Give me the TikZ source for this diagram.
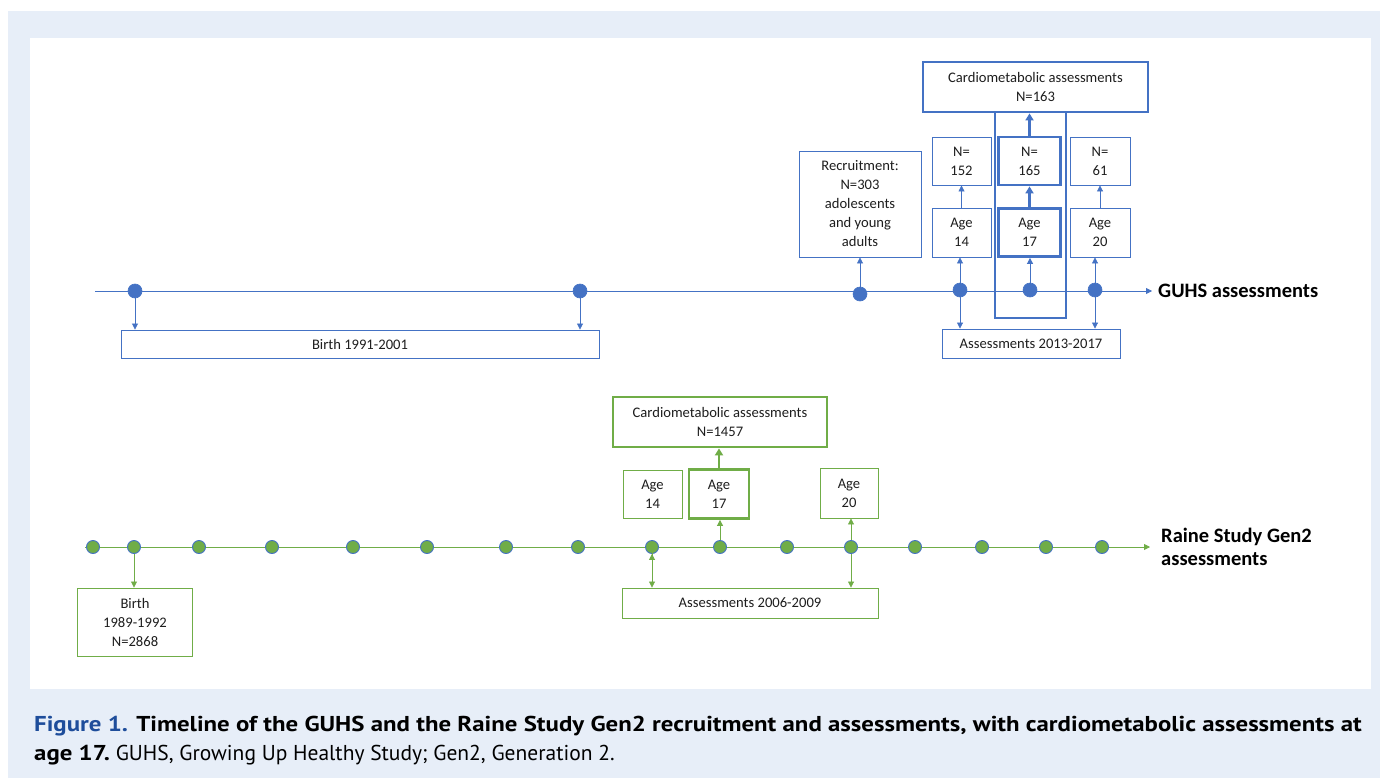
\documentclass[tikz,border=0pt]{standalone}
\usepackage{fontspec}
\setmainfont{Carlito}
\newfontfamily\capfont{PT Sans}
\usetikzlibrary{arrows.meta}
\definecolor{gblue}{HTML}{4472C4}
\definecolor{ggreen}{HTML}{70AD47}
\definecolor{panel}{HTML}{E7EEF8}
\definecolor{capblue}{HTML}{1E4D9B}
\definecolor{txt}{HTML}{1E1E1E}
\tikzset{
  boxbase/.style={draw, fill=white, inner sep=0pt, align=center, font=\fontsize{14.6}{19}\selectfont, text=txt},
  bbox/.style={boxbase, draw=gblue, line width=0.9pt},
  bthick/.style={boxbase, draw=gblue, line width=2.8pt},
  gbox/.style={boxbase, draw=ggreen, line width=0.9pt},
  gthick/.style={boxbase, draw=ggreen, line width=2.8pt},
  bdot/.style={circle, fill=gblue, draw=gblue, line width=0.6pt, minimum size=14pt, inner sep=0pt},
  gdot/.style={circle, fill=ggreen, draw=gblue, line width=0.9pt, minimum size=13pt, inner sep=0pt},
  barrow/.style={draw=gblue, line width=0.8pt, -{Triangle[length=6pt,width=6pt]}},
  barrowthick/.style={draw=gblue, line width=2.4pt, -{Triangle[length=7pt,width=8pt]}},
  garrow/.style={draw=ggreen, line width=0.8pt, -{Triangle[length=6pt,width=6pt]}},
  garrowthick/.style={draw=ggreen, line width=2.4pt, -{Triangle[length=7pt,width=8pt]}},
  lbl/.style={anchor=base west, inner sep=0pt, font=\bfseries\fontsize{20.5}{23}\selectfont, text=black, align=left},
}
\begin{document}
\begin{tikzpicture}[x=1pt,y=-1pt]
\useasboundingbox (0,0) rectangle (1380,778);
\fill[panel] (8,11) rectangle (1380,778);
\fill[white] (30,38) rectangle (1371,689);

% ---------------- GUHS timeline ----------------
\coordinate (gs) at (95,291);
\coordinate (ge) at (1152,291);
\draw[barrow] (gs) -- (ge);

% tall column around age 17
\node[draw=gblue, line width=2.8pt, minimum width=71pt, minimum height=206pt, inner sep=0pt] (col) at (1030.5,215) {};

\node[bbox, minimum width=478pt, minimum height=28pt] (birthg) at (360,344) {Birth 1991-2001};
\node[bbox, minimum width=122pt, minimum height=106pt] (recr) at (860,204) {Recruitment:\\N=303\\adolescents\\and young\\adults};
\node[bbox, minimum width=59pt, minimum height=49pt] (a14) at (961.5,232.5) {Age\\14};
\node[bbox, minimum width=59pt, minimum height=48pt] (n14) at (961.5,161) {N=\\152};
\node[bthick, minimum width=62pt, minimum height=48pt] (a17) at (1029.5,232.5) {Age\\17};
\node[bthick, minimum width=62pt, minimum height=48pt] (n17) at (1029.5,161) {N=\\165};
\node[bbox, minimum width=60pt, minimum height=49pt] (a20) at (1100,232.5) {Age\\20};
\node[bbox, minimum width=60pt, minimum height=48pt] (n20) at (1100,161) {N=\\61};
\node[bthick, minimum width=225pt, minimum height=50pt] (cardg) at (1035.5,87) {Cardiometabolic assessments\\N=163};
\node[bbox, minimum width=178pt, minimum height=29pt] (assg) at (1031,343.5) {Assessments 2013-2017};

\node[bdot] (g1) at (135,291) {};
\node[bdot] (g2) at (580,291) {};
\node[bdot] (g3) at (860,294) {};
\node[bdot] (g4) at (960,290) {};
\node[bdot] (g5) at (1030,290) {};
\node[bdot] (g6) at (1095,290) {};

\draw[barrow] (g1) -- (g1 |- birthg.north);
\draw[barrow] (g2) -- (g2 |- birthg.north);
\draw[barrow] (g3) -- (g3 |- recr.south);
\draw[barrow] (g4) -- (g4 |- a14.south);
\draw[barrow] (g4) -- (g4 |- assg.north);
\draw[barrow] (g5) -- (g5 |- a17.south);
\draw[barrow] (g6) -- (g6 |- a20.south);
\draw[barrow] (g6) -- (g6 |- assg.north);
\draw[barrow] (a14.north) -- (n14.south);
\draw[barrow] (a20.north) -- (n20.south);
\draw[barrowthick] (a17.north) -- (n17.south);
\draw[barrowthick] (n17.north) -- (n17.north |- cardg.south);

\node[lbl] (glabel) at (1158,297) {GUHS assessments};

% ---------------- Raine timeline ----------------
\coordinate (rs) at (85,547);
\coordinate (re) at (1150,547);
\draw[garrow] (rs) -- (re);

\node[gbox, minimum width=115pt, minimum height=68pt] (birthr) at (135,622) {Birth\\1989-1992\\N=2868};
\node[gbox, minimum width=59pt, minimum height=48pt] (r14) at (652.5,494) {Age\\14};
\node[gthick, minimum width=60pt, minimum height=49pt] (r17) at (719,494) {Age\\17};
\node[gbox, minimum width=58pt, minimum height=50pt] (r20) at (849,493) {Age\\20};
\node[gthick, minimum width=214pt, minimum height=50pt] (cardr) at (720,422) {Cardiometabolic assessments\\N=1457};
\node[gbox, minimum width=256pt, minimum height=30pt] (assr) at (750,603) {Assessments 2006-2009};

\foreach \i/\x in {1/93,2/134,3/199,4/272,5/353,6/427,7/506,8/578,9/652,10/720,11/787,12/851,13/915,14/982,15/1046,16/1102}{
  \node[gdot] (r\i) at (\x,547) {};
}

\draw[garrow] (r2) -- (r2 |- birthr.north);
\draw[garrow] (r9) -- (r9 |- r14.south);
\draw[garrow] (r9) -- (r9 |- assr.north);
\draw[garrow] (r10) -- (r10 |- r17.south);
\draw[garrow] (r12) -- (r12 |- r20.south);
\draw[garrow] (r12) -- (r12 |- assr.north);
\draw[garrowthick] (r17.north) -- (r17.north |- cardr.south);

\node[lbl] (rlabel) at (1161,565) {Raine Study Gen2\\assessments};

% ---------------- caption ----------------
\node[anchor=base west, inner sep=0pt, font=\capfont\bfseries\fontsize{21.5}{24}\selectfont] (cap1) at (34,731)
  {\scalebox{1.155}[1]{\textcolor{capblue}{Figure 1.} Timeline of the GUHS and the Raine Study Gen2 recruitment and assessments, with cardiometabolic assessments at}};
\node[anchor=base west, inner sep=0pt, font=\capfont\fontsize{21.5}{24}\selectfont] (cap2) at (34,760)
  {\scalebox{1.155}[1]{\textbf{age 17.}}\scalebox{1.0}[1]{ GUHS, Growing Up Healthy Study; Gen2, Generation 2.}};
\end{tikzpicture}
\end{document}
